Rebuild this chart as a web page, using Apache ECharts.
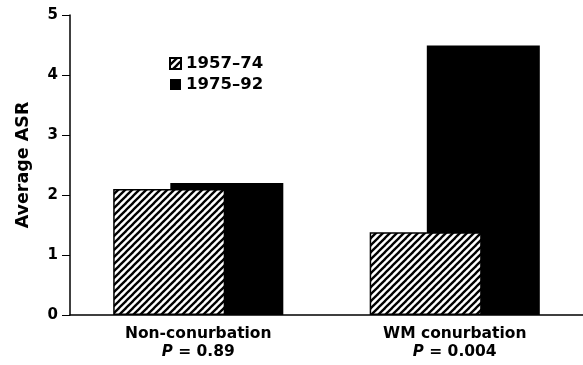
<!DOCTYPE html>
<html><head><meta charset="utf-8">
<script src="https://cdn.jsdelivr.net/npm/echarts@6/dist/echarts.min.js"></script>
<style>html,body{margin:0;padding:0;background:#fff}#c{width:583px;height:365px}</style>
</head><body><div id="c"></div>
<script>
const categories = ['Non-conurbation', 'WM conurbation'];
const pValues = ['0.89', '0.004'];
const seriesNames = ['1957–74', '1975–92'];
const values1957 = [2.1, 1.38];
const values1975 = [2.2, 4.49];
const yTicks = [0, 1, 2, 3, 4, 5];

function hatch() {
  const s = 7;
  const c = document.createElement('canvas');
  c.width = s; c.height = s;
  const g = c.getContext('2d');
  g.fillStyle = '#fff'; g.fillRect(0, 0, s, s);
  g.strokeStyle = '#000'; g.lineWidth = 2.3;
  for (let k = -1; k <= 1; k++) {
    g.beginPath();
    g.moveTo(k * s - 1, s + 1);
    g.lineTo(k * s + s + 1, -1);
    g.stroke();
  }
  return c;
}
const font = '"DejaVu Sans", sans-serif';
const chart = echarts.init(document.getElementById('c'));
chart.setOption({
  animation: false,
  grid: { left: 70, top: 15, bottom: 50, width: 519 },
  legend: {
    orient: 'vertical', left: 164, top: 50, itemWidth: 11, itemHeight: 11, itemGap: 4, padding: 5,
    textStyle: { fontFamily: font, fontWeight: 'bold', fontSize: 16.5, color: '#000' },
    data: seriesNames.map(n => ({ name: n, icon: 'rect' }))
  },
  xAxis: {
    type: 'category', data: categories,
    axisLine: { lineStyle: { color: '#000', width: 1.5 } },
    axisTick: { alignWithLabel: true, length: 4, lineStyle: { color: '#000' } },
    axisLabel: {
      margin: 10, color: '#000', fontFamily: font, fontWeight: 'bold', fontSize: 15.5, lineHeight: 18,
      formatter: (v, i) => v + '\n{i|P} = ' + pValues[i],
      rich: { i: { fontStyle: 'italic', fontFamily: font, fontWeight: 'bold', fontSize: 15, color: '#000' } }
    }
  },
  yAxis: {
    type: 'value', min: 0, max: 5, interval: 1,
    name: 'Average ASR', nameLocation: 'middle', nameGap: 38, nameRotate: 90,
    nameTextStyle: { fontFamily: font, fontWeight: 'bold', fontSize: 17.5, color: '#000' },
    axisLine: { show: true, lineStyle: { color: '#000', width: 1.5 } },
    axisTick: { show: true, length: 8, lineStyle: { color: '#000' } },
    axisLabel: { margin: 12, color: '#000', fontFamily: font, fontWeight: 'bold', fontSize: 15,
      formatter: v => yTicks.includes(v) ? String(v) : '' },
    splitLine: { show: false }
  },
  series: [
    { name: seriesNames[0], type: 'bar', data: values1957, barWidth: 112, barGap: '-49%', z: 3,
      itemStyle: { color: { image: hatch(), repeat: 'repeat' }, borderColor: '#000', borderWidth: 1.5 } },
    { name: seriesNames[1], type: 'bar', data: values1975, barWidth: 113, z: 2,
      itemStyle: { color: '#000', borderColor: '#000', borderWidth: 0 } }
  ]
});
</script></body></html>
